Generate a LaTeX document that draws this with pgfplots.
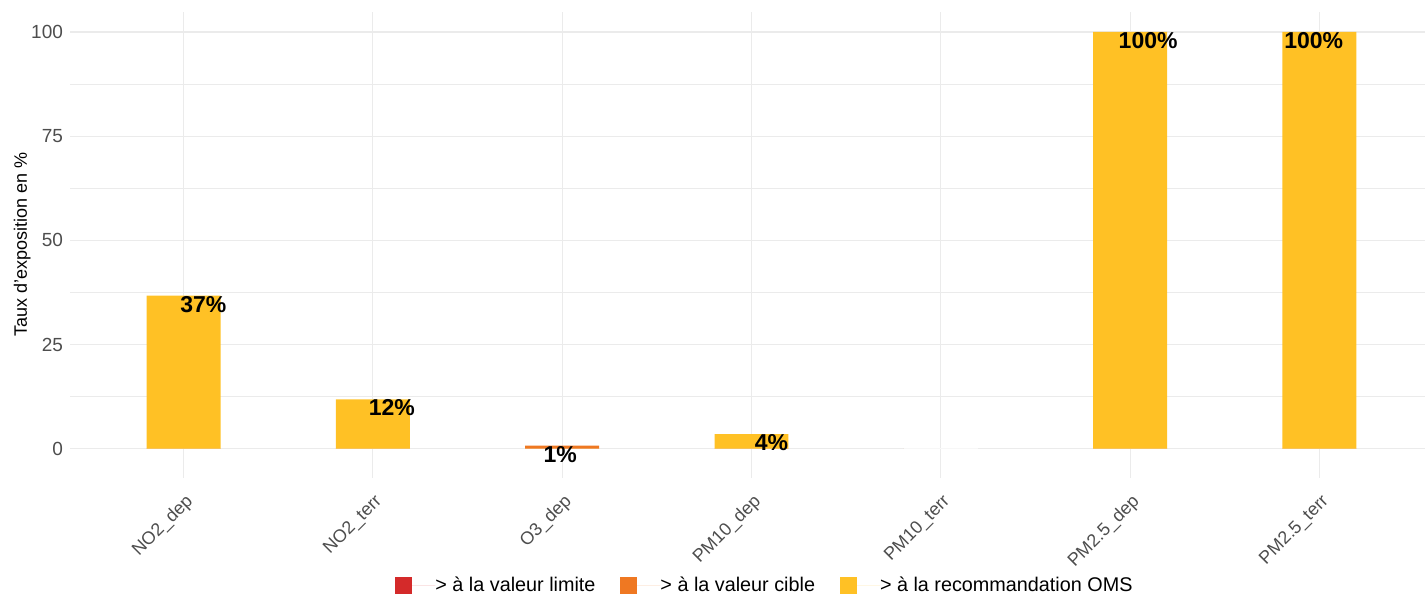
\documentclass[border=0pt]{standalone}
\usepackage{fontspec}
\setmainfont{Liberation Sans}
\usepackage{pgfplots}
\pgfplotsset{compat=1.18}
\definecolor{rlimit}{HTML}{D42A2A}
\definecolor{rcible}{HTML}{EF7822}
\definecolor{roms}{HTML}{FFC125}
\definecolor{gridc}{HTML}{EBEBEB}
\definecolor{tickc}{HTML}{4D4D4D}

\begin{document}
\begin{tikzpicture}
\begin{axis}[
  name=ax,
  scale only axis,
  width=678pt, height=233pt,
  xmin=-0.6, xmax=6.56,
  ymin=-7, ymax=104.8,
  xtick={0,1,2,3,4,5,6},
  xticklabels={NO2\_dep, NO2\_terr, O3\_dep, PM10\_dep, PM10\_terr, PM2.5\_dep, PM2.5\_terr},
  x tick label style={rotate=45, anchor=north east, font=\fontsize{9}{10}\selectfont, text=tickc, inner sep=1pt, xshift=-4pt, yshift=-4.5pt},
  ytick={0,25,50,75,100},
  minor ytick={12.5,37.5,62.5,87.5},
  y tick label style={font=\fontsize{9.5}{10}\selectfont, text=tickc},
  /pgf/number format/assume math mode=true,
  xmajorgrids, ymajorgrids, yminorgrids,
  major grid style={gridc, line width=0.55pt},
  minor grid style={gridc, line width=0.3pt},
  axis line style={draw=none},
  major tick length=0pt, minor tick length=0pt,
  ylabel={Taux d'exposition en \%},
  ylabel style={font=\fontsize{9}{10}\selectfont, yshift=-6.5pt},
  legend columns=3,
  legend style={at={(0.512,-0.232)}, anchor=center, draw=none, fill=none,
    font=\fontsize{9.9}{11}\selectfont,
    /tikz/every even column/.append style={column sep=12.5pt},
    nodes={inner xsep=0pt}},
  legend image code/.code={\fill[#1] (0pt,-4.25pt) rectangle (8.5pt,4.25pt); \path (0pt,0pt) -- (20pt,0pt);},
]
\addplot[ybar, bar shift=0pt, bar width=37pt, fill=rlimit, draw=none]
  coordinates {(0,0) (1,0) (2,0) (3,0) (4,0) (5,0) (6,0)};
\addplot[ybar, bar shift=0pt, bar width=37pt, fill=rcible, draw=none]
  coordinates {(0,0) (1,0) (2,0.7) (3,0) (4,0) (5,0) (6,0)};
\addplot[ybar, bar shift=0pt, bar width=37pt, fill=roms, draw=none]
  coordinates {(0,36.7) (1,11.8) (2,0) (3,3.5) (4,0) (5,100) (6,100)};
\addplot[ybar, bar shift=0pt, bar width=37pt, fill=white, draw=white!60!gridc, line width=0.6pt, forget plot]
  coordinates {(4,0)};
\addplot[draw=none, mark=none, forget plot,
  nodes near coords, point meta=explicit symbolic,
  nodes near coords style={anchor=north, inner sep=0pt, font=\bfseries\fontsize{11.5}{12}\selectfont}]
  coordinates {(0.105,36.7)[37\%] (1.10,11.8)[12\%] (1.99,0.5)[1\%] (3.105,3.5)[4\%] (5.095,100)[100\%] (5.97,100)[100\%]};
\legend{> à la valeur limite, > à la valeur cible, > à la recommandation OMS}
\end{axis}
\path ([xshift=-35pt]ax.south west);
\path ([yshift=6pt]ax.north west);
\end{tikzpicture}
\end{document}
